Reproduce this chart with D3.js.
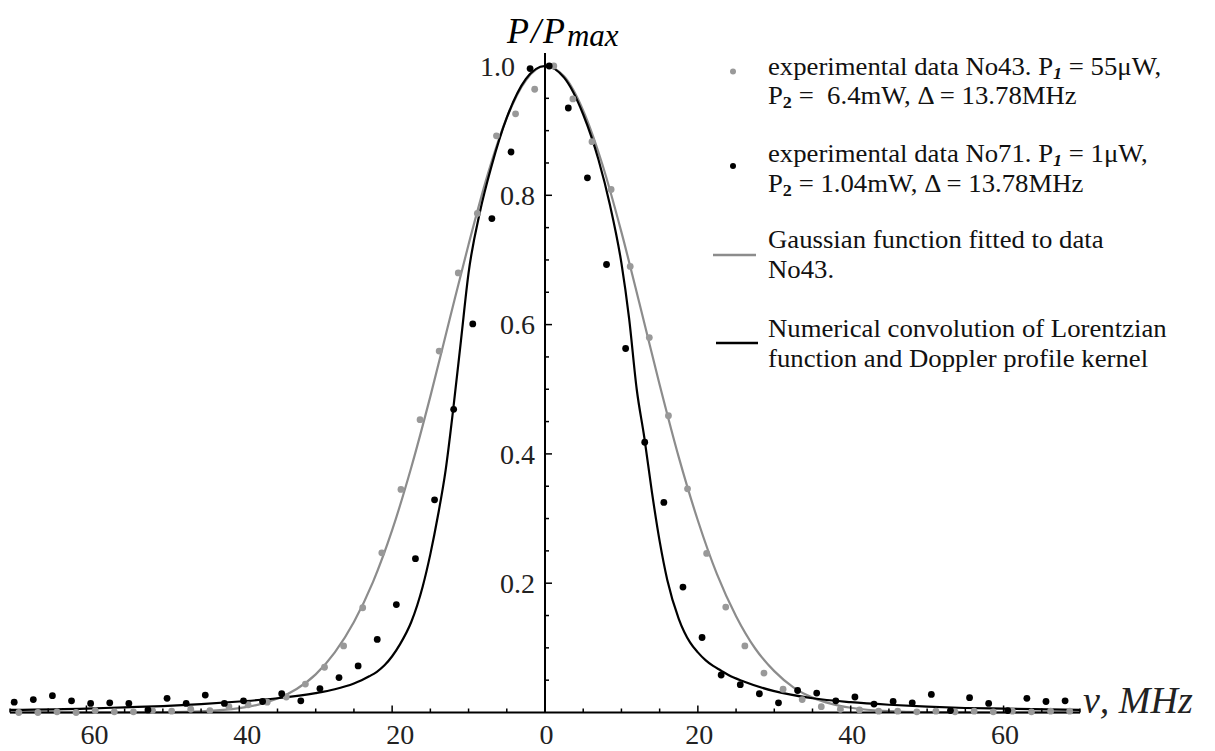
<!DOCTYPE html>
<html>
<head>
<meta charset="utf-8">
<script src="https://cdn.jsdelivr.net/npm/d3@7"></script>
<style>
  html, body { margin: 0; padding: 0; background: #fff; }
  svg { display: block; }
</style>
</head>
<body>
<div id="chart"></div>
<script>
// Data (x in MHz, y = P/Pmax)
const data43X = [-68.85, -66.35, -63.85, -61.35, -58.85, -56.35, -53.85, -51.35, -48.85, -46.35,
  -43.85, -41.35, -38.85, -36.35, -33.85, -31.35, -28.85, -26.35, -23.85, -21.35, -18.85, -16.35,
  -13.85, -11.35, -8.85, -6.35, -3.85, -1.35, 1.15, 3.65, 6.15, 8.65, 11.15, 13.65, 16.15, 18.65,
  21.15, 23.65, 26.15, 28.65, 31.15, 33.65, 36.15, 38.65, 41.15, 43.65, 46.15, 48.65, 51.15, 53.65,
  56.15, 58.65, 61.15, 63.65, 66.15, 68.65];
const data43Y = [0.000, 0.000, 0.001, 0.000, 0.003, 0.001, 0.001, 0.003, 0.002, 0.005,
  0.003, 0.009, 0.012, 0.016, 0.024, 0.044, 0.070, 0.103, 0.162, 0.247, 0.345, 0.453,
  0.559, 0.680, 0.772, 0.892, 0.926, 0.964, 1.000, 0.949, 0.883, 0.809, 0.690, 0.580, 0.459, 0.346,
  0.246, 0.163, 0.103, 0.061, 0.036, 0.020, 0.009, 0.005, 0.004, 0.002, 0.002, 0.001, 0.002, 0.001,
  0.002, 0.001, 0.002, 0.001, 0.002, 0.002];

const data71X = [-69.45, -66.95, -64.45, -61.95, -59.45, -56.95, -54.45, -51.95, -49.45, -46.95,
  -44.45, -41.95, -39.45, -36.95, -34.45, -31.95, -29.45, -26.95, -24.45, -21.95, -19.45, -16.95,
  -14.45, -11.95, -9.45, -6.95, -4.45, -1.95, 0.55, 3.05, 5.55, 8.05, 10.55, 13.05, 15.55, 18.05,
  20.55, 23.05, 25.55, 28.05, 30.55, 33.05, 35.55, 38.05, 40.55, 43.05, 45.55, 48.05, 50.55, 53.05,
  55.55, 58.05, 60.55, 63.05, 65.55, 68.05];
const data71Y = [0.016, 0.020, 0.026, 0.018, 0.014, 0.015, 0.014, 0.004, 0.022, 0.014,
  0.027, 0.014, 0.018, 0.017, 0.029, 0.018, 0.037, 0.054, 0.072, 0.113, 0.167, 0.238,
  0.329, 0.469, 0.601, 0.764, 0.867, 0.996, 1.000, 0.935, 0.827, 0.693, 0.563, 0.418, 0.325, 0.194,
  0.116, 0.058, 0.043, 0.029, 0.015, 0.034, 0.030, 0.018, 0.024, 0.013, 0.017, 0.015, 0.028, 0.003,
  0.023, 0.014, 0.003, 0.022, 0.017, 0.018];

// Gaussian fit to No43, sampled off the gray curve
const gaussX = [-70, -60, -50, -45, -40, -37.5, -35, -32.5, -30, -27.5, -25, -22.5, -20, -17.5, -15,
  -12.5, -10, -7.5, -5, -2.5, 0, 2.5, 5, 7.5, 10, 12.5, 15, 17.5, 20, 22.5, 25, 27.5, 30, 32.5, 35,
  37.5, 40, 45, 50, 60, 70];
const gaussY = [0, 0, 0.0004, 0.0018, 0.0067, 0.0122, 0.0215, 0.0364, 0.059, 0.093, 0.140, 0.202,
  0.282, 0.379, 0.489, 0.607, 0.724, 0.832, 0.920, 0.978, 1.000, 0.984, 0.931, 0.848, 0.743, 0.626,
  0.507, 0.395, 0.297, 0.214, 0.149, 0.099, 0.064, 0.039, 0.023, 0.0134, 0.0074, 0.002, 0.0005, 0, 0];

// Numerical convolution curve, sampled off the black curve
const convX = [-70, -60, -55, -50, -45, -40, -35, -30, -27.5, -25, -24, -23, -22, -21, -20, -19,
  -17.5, -16, -15, -14, -13, -12, -11, -10, -8.5, -7, -5, -2.5, 0, 2.5, 5, 7, 8.5, 10, 11, 12, 13,
  14, 15, 16, 17.5, 19, 20, 21, 22, 23, 24, 26, 30, 35, 40, 45, 50, 55, 60, 70];
const convY = [0.004, 0.006, 0.008, 0.010, 0.013, 0.017, 0.022, 0.030, 0.036, 0.045, 0.050, 0.056,
  0.063, 0.073, 0.087, 0.105, 0.140, 0.195, 0.245, 0.305, 0.375, 0.470, 0.575, 0.680, 0.775, 0.845,
  0.920, 0.980, 1.000, 0.982, 0.925, 0.855, 0.785, 0.695, 0.610, 0.500, 0.425, 0.340, 0.265, 0.205,
  0.145, 0.108, 0.093, 0.081, 0.072, 0.065, 0.058, 0.048, 0.033, 0.022, 0.016, 0.012, 0.009, 0.007,
  0.006, 0.004];

const xMajor = [-60, -40, -20, 0, 20, 40, 60];
const yMajor = [0.2, 0.4, 0.6, 0.8, 1.0];

const WIDTH = 1215;
const HEIGHT = 751;
const FONT = '"Liberation Serif", "Times New Roman", serif';
const GRAY = '#8c8c8c';

const svg = d3.select('#chart').append('svg')
  .attr('width', WIDTH)
  .attr('height', HEIGHT)
  .style('font-family', FONT);

const x = d3.scaleLinear().domain([-70, 70]).range([10, 1080]);
const y = d3.scaleLinear().domain([0, 1]).range([712.5, 66]);

// curves
const line = d3.line()
  .x(d => x(d[0]))
  .y(d => y(d[1]))
  .curve(d3.curveMonotoneX);

svg.append('path')
  .datum(d3.zip(gaussX, gaussY))
  .attr('fill', 'none')
  .attr('stroke', GRAY)
  .attr('stroke-width', 2.2)
  .attr('d', line);

svg.append('path')
  .datum(d3.zip(convX, convY))
  .attr('fill', 'none')
  .attr('stroke', '#000')
  .attr('stroke-width', 2.2)
  .attr('d', line);

// x axis (ticks point up, labels without sign)
const xMinor = d3.range(-70, 71, 5).filter(v => v !== 0);
const xAxisG = svg.append('g').attr('transform', `translate(0,${y(0)})`);
xAxisG.append('line')
  .attr('x1', x(-70)).attr('x2', x(70))
  .attr('stroke', '#000').attr('stroke-width', 2);
xAxisG.selectAll('.minor').data(xMinor).join('line')
  .attr('x1', d => x(d)).attr('x2', d => x(d))
  .attr('y1', 0).attr('y2', d => (d % 20 === 0 ? -7 : -4))
  .attr('stroke', '#000').attr('stroke-width', 1.5);
xAxisG.selectAll('text').data(xMajor).join('text')
  .attr('x', d => x(d) + (d < 0 ? 8 : 1.5))
  .attr('y', 31)
  .attr('text-anchor', 'middle')
  .style('font-size', '28px')
  .style('fill', '#222')
  .text(d => Math.abs(d));

// y axis (ticks point right)
const yMinor = d3.range(1, 21).map(i => i * 0.05);
const yAxisG = svg.append('g').attr('transform', `translate(${x(0)},0)`);
yAxisG.append('line')
  .attr('y1', y(0)).attr('y2', y(1.02))
  .attr('stroke', '#000').attr('stroke-width', 2);
yAxisG.selectAll('.tick').data(yMinor).join('line')
  .attr('y1', d => y(d)).attr('y2', d => y(d))
  .attr('x1', 0).attr('x2', (d, i) => ((i + 1) % 4 === 0 ? 7 : 4))
  .attr('stroke', '#000').attr('stroke-width', 1.5);
yAxisG.selectAll('text').data(yMajor).join('text')
  .attr('x', d => (d === 1.0 ? -30 : -10))
  .attr('y', d => y(d))
  .attr('dy', '0.35em')
  .attr('text-anchor', 'end')
  .style('font-size', '28px')
  .style('fill', '#222')
  .text(d => d3.format('.1f')(d));

// axis titles
const yTitle = svg.append('text')
  .attr('x', 507).attr('y', 43)
  .style('font-style', 'italic');
yTitle.append('tspan').style('font-size', '36px').style('letter-spacing', '2px').text('P/P');
yTitle.append('tspan').attr('dy', 3).style('font-size', '31px').text('max');

svg.append('text')
  .attr('x', 1083).attr('y', 713)
  .style('font-size', '38px')
  .style('font-style', 'italic')
  .style('fill', '#222')
  .text('ν, MHz');

// data points
svg.append('g').selectAll('circle').data(d3.zip(data43X, data43Y)).join('circle')
  .attr('cx', d => x(d[0])).attr('cy', d => y(d[1]))
  .attr('r', 3.4).attr('fill', '#999');

svg.append('g').selectAll('circle').data(d3.zip(data71X, data71Y)).join('circle')
  .attr('cx', d => x(d[0])).attr('cy', d => y(d[1]))
  .attr('r', 3.4).attr('fill', '#000');

// legend markers
const markers = svg.append('g');
markers.append('circle').attr('cx', 733).attr('cy', 71.5).attr('r', 3).attr('fill', '#999');
markers.append('circle').attr('cx', 733).attr('cy', 166).attr('r', 3).attr('fill', '#000');
markers.append('line').attr('x1', 713).attr('x2', 756).attr('y1', 255).attr('y2', 255)
  .attr('stroke', GRAY).attr('stroke-width', 2.5);
markers.append('line').attr('x1', 716).attr('x2', 758).attr('y1', 343).attr('y2', 343)
  .attr('stroke', '#000').attr('stroke-width', 2.5);

// legend text: the original type is slightly wide, so stretch horizontally from x = 768
const LX = 768;
const legend = svg.append('g')
  .attr('transform', `translate(${LX},0) scale(1.07,1)`)
  .style('font-size', '25px')
  .style('fill', '#111');

function legendEntry(yPos, gap, lines) {
  const t = legend.append('text').attr('y', yPos).style('white-space', 'pre');
  lines.forEach((parts, li) => {
    let shift = 0;
    parts.forEach((p, pi) => {
      const s = t.append('tspan');
      if (pi === 0) s.attr('x', 0).attr('dy', li === 0 ? 0 : gap);
      if (typeof p === 'string') {
        if (pi > 0) s.attr('dy', -shift);
        s.text(p);
        shift = 0;
      } else {
        s.attr('dy', 4).style('font-size', '17px')
          .style('font-style', p.italic ? 'italic' : 'normal')
          .style('font-weight', 'bold').text(p.sub);
        shift = 4;
      }
    });
  });
}

legendEntry(75, 29, [
  ['experimental data No43. P', { sub: '1', italic: true }, ' = 55μW,'],
  ['P', { sub: '2' }, ' =  6.4mW, Δ = 13.78MHz']
]);
legendEntry(162, 30, [
  ['experimental data No71. P', { sub: '1', italic: true }, ' = 1μW,'],
  ['P', { sub: '2' }, ' = 1.04mW, Δ = 13.78MHz']
]);
legendEntry(248, 30, [['Gaussian function fitted to data'], ['No43.']]);
legendEntry(337, 30, [['Numerical convolution of Lorentzian'], ['function and Doppler profile kernel']]);
</script>
</body>
</html>
